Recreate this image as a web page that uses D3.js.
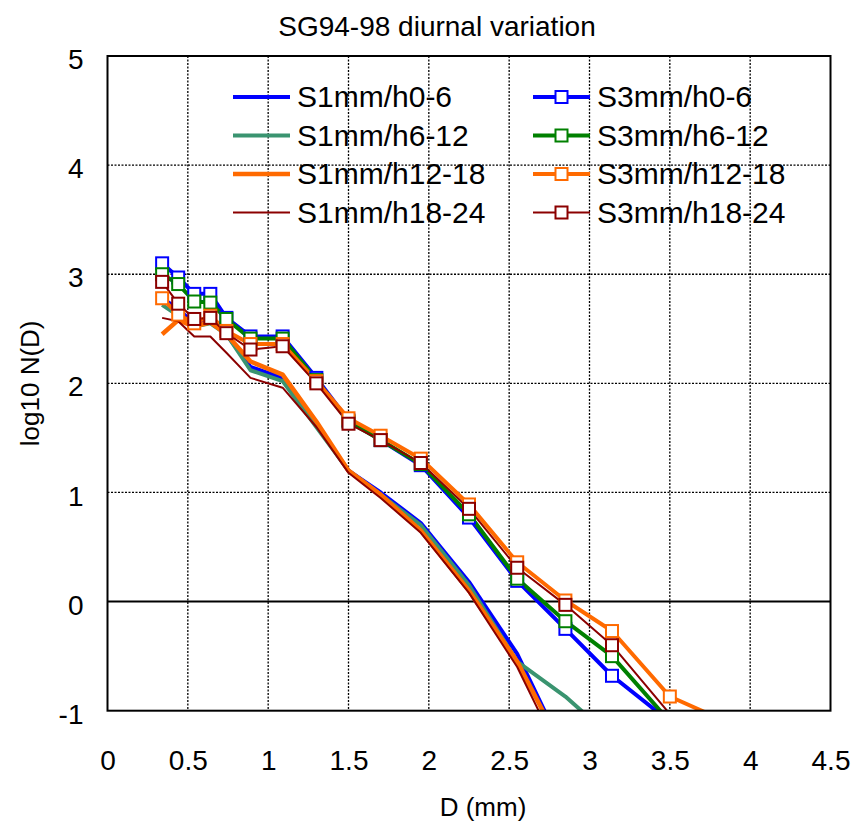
<!DOCTYPE html>
<html>
<head>
<meta charset="utf-8">
<script src="https://cdn.jsdelivr.net/npm/d3@7"></script>
<style>
    body { margin: 0; background: #fff; }
    text { font-family: "Liberation Sans", Arial, sans-serif; fill: #000; }
</style>
</head>
<body>
<div id="chart"></div>
<script>
// drop diameters (mm)
const diameters = [0.34, 0.44, 0.54, 0.64, 0.74, 0.89, 1.09, 1.30, 1.50, 1.70, 1.95, 2.25, 2.55, 2.85, 3.14, 3.50, 3.85];

// S1mm series, log10 N(D)
const s1_h0_6   = [2.78, 2.68, 2.55, 2.60, 2.45, 2.15, 2.05, 1.62, 1.20, 1.00, 0.72, 0.18, -0.48, -1.40];
const s1_h6_12  = [2.72, 2.62, 2.52, 2.55, 2.45, 2.12, 2.02, 1.60, 1.20, 0.98, 0.70, 0.15, -0.55, -0.87, -1.25];
const s1_h12_18 = [2.45, 2.58, 2.52, 2.56, 2.45, 2.20, 2.08, 1.65, 1.20, 0.98, 0.65, 0.10, -0.55, -1.40];
const s1_h18_24 = [2.60, 2.57, 2.43, 2.43, 2.28, 2.05, 1.96, 1.60, 1.18, 0.95, 0.63, 0.08, -0.60, -1.50];

// S3mm series, log10 N(D)
const s3_h0_6   = [3.10, 2.97, 2.82, 2.82, 2.60, 2.43, 2.43, 2.05, 1.66, 1.48, 1.25, 0.77, 0.19, -0.25, -0.68, -1.10];
const s3_h6_12  = [3.00, 2.91, 2.75, 2.74, 2.59, 2.41, 2.41, 2.03, 1.65, 1.48, 1.26, 0.80, 0.21, -0.18, -0.50, -1.10];
const s3_h12_18 = [2.78, 2.63, 2.55, 2.62, 2.48, 2.36, 2.36, 2.02, 1.68, 1.52, 1.31, 0.89, 0.36, 0.01, -0.27, -0.87, -1.10];
const s3_h18_24 = [2.93, 2.73, 2.59, 2.60, 2.46, 2.31, 2.34, 2.00, 1.63, 1.48, 1.27, 0.85, 0.31, -0.03, -0.40, -1.03];

const xTicks = [0, 0.5, 1, 1.5, 2, 2.5, 3, 3.5, 4, 4.5];
const yTicks = [-1, 0, 1, 2, 3, 4, 5];

const series = [
    {name: "S1mm/h0-6",   values: s1_h0_6,   color: "#0000ff", width: 4,   marker: false},
    {name: "S1mm/h6-12",  values: s1_h6_12,  color: "#3a9470", width: 4,   marker: false},
    {name: "S1mm/h12-18", values: s1_h12_18, color: "#ff6a00", width: 4.5, marker: false},
    {name: "S1mm/h18-24", values: s1_h18_24, color: "#8b0000", width: 2,   marker: false},
    {name: "S3mm/h0-6",   values: s3_h0_6,   color: "#0000ff", width: 4,   marker: true},
    {name: "S3mm/h6-12",  values: s3_h6_12,  color: "#008000", width: 4,   marker: true},
    {name: "S3mm/h12-18", values: s3_h12_18, color: "#ff6a00", width: 4,   marker: true},
    {name: "S3mm/h18-24", values: s3_h18_24, color: "#8b0000", width: 2,   marker: true}
];

const W = 857, H = 824;
const margin = {top: 56, right: 26.5, bottom: 113.3, left: 107.5};
const width = W - margin.left - margin.right;
const height = H - margin.top - margin.bottom;

const svg = d3.select("#chart").append("svg")
    .attr("width", W)
    .attr("height", H);

const g = svg.append("g")
    .attr("transform", `translate(${margin.left},${margin.top})`);

const x = d3.scaleLinear().domain([0, 4.5]).range([0, width]);
const y = d3.scaleLinear().domain([-1, 5]).range([height, 0]);

// clip for data lines
svg.append("defs").append("clipPath").attr("id", "plotClip")
    .append("rect").attr("width", width).attr("height", height);

// grid
g.append("g")
    .selectAll("line")
    .data(xTicks.filter(d => d > 0 && d < 4.5))
    .join("line")
    .attr("x1", d => x(d)).attr("x2", d => x(d))
    .attr("y1", 0).attr("y2", height)
    .attr("stroke", "#000").attr("stroke-width", 1.3)
    .attr("stroke-dasharray", "2,1.5");

g.append("g")
    .selectAll("line")
    .data(yTicks.filter(d => d > -1 && d < 5))
    .join("line")
    .attr("x1", 0).attr("x2", width)
    .attr("y1", d => y(d)).attr("y2", d => y(d))
    .attr("stroke", "#000").attr("stroke-width", d => d === 0 ? 2 : 1.3)
    .attr("stroke-dasharray", d => d === 0 ? null : "2,1.5");

// axes
const xAxis = d3.axisBottom(x).tickValues(xTicks).tickSize(0).tickPadding(39)
    .tickFormat(d => String(d));
const yAxis = d3.axisLeft(y).tickValues(yTicks).tickSize(0).tickPadding(24)
    .tickFormat(d => String(d));

g.append("g")
    .attr("transform", `translate(0,${height})`)
    .call(xAxis)
    .call(a => a.select(".domain").remove())
    .selectAll("text")
    .style("font-size", "28px")
    .style("font-family", "Liberation Sans, Arial, sans-serif");

g.append("g")
    .call(yAxis)
    .call(a => a.select(".domain").remove())
    .selectAll("text")
    .attr("dy", "0.45em")
    .style("font-size", "28px")
    .style("font-family", "Liberation Sans, Arial, sans-serif");

// data lines
const line = d3.line()
    .x((d, i) => x(diameters[i]))
    .y(d => y(d));

const plot = g.append("g").attr("clip-path", "url(#plotClip)");

series.forEach(s => {
    plot.append("path")
        .datum(s.values)
        .attr("fill", "none")
        .attr("stroke", s.color)
        .attr("stroke-width", s.width)
        .attr("stroke-linejoin", "round")
        .attr("d", line);
});

const ms = 12;
series.filter(s => s.marker).forEach(s => {
    plot.append("g")
        .selectAll("rect")
        .data(s.values.map((v, i) => ({v: v, d: diameters[i]})).filter(p => p.v >= -1))
        .join("rect")
        .attr("x", p => x(p.d) - ms / 2)
        .attr("y", p => y(p.v) - ms / 2)
        .attr("width", ms).attr("height", ms)
        .attr("fill", "#fff")
        .attr("stroke", s.color)
        .attr("stroke-width", 2);
});

// frame
g.append("rect")
    .attr("width", width).attr("height", height)
    .attr("fill", "none").attr("stroke", "#000").attr("stroke-width", 2);

// legend
const legend = svg.append("g");
series.forEach((s, i) => {
    const col = s.marker ? 1 : 0;
    const row = i % 4;
    const lx = col === 0 ? 233 : 533;
    const ly = 97 + row * 38.5;
    const item = legend.append("g").attr("transform", `translate(${lx},${ly})`);
    item.append("line")
        .attr("x1", 0).attr("x2", 57).attr("y1", 0).attr("y2", 0)
        .attr("stroke", s.color).attr("stroke-width", s.width);
    if (s.marker) {
        item.append("rect")
            .attr("x", 28.5 - ms / 2).attr("y", -ms / 2)
            .attr("width", ms).attr("height", ms)
            .attr("fill", "#fff").attr("stroke", s.color).attr("stroke-width", 2);
    }
    item.append("text")
        .attr("x", 64).attr("y", 10)
        .style("font-size", "30px")
        .text(s.name);
});

// title and axis labels
svg.append("text")
    .attr("x", 437).attr("y", 36)
    .attr("text-anchor", "middle")
    .style("font-size", "28px")
    .text("SG94-98 diurnal variation");

svg.append("text")
    .attr("x", margin.left + width / 2 + 14).attr("y", 816)
    .attr("text-anchor", "middle")
    .style("font-size", "26px")
    .text("D (mm)");

svg.append("text")
    .attr("transform", `translate(39,${margin.top + height / 2}) rotate(-90)`)
    .attr("text-anchor", "middle")
    .style("font-size", "26px")
    .text("log10 N(D)");
</script>
</body>
</html>
